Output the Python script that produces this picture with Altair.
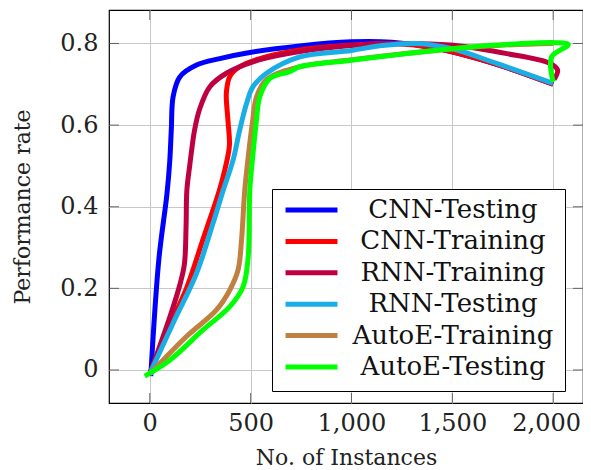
import altair as alt
import pandas as pd

series = ["CNN-Testing", "CNN-Training", "RNN-Training", "RNN-Testing", "AutoE-Training", "AutoE-Testing"]
colors = ["#0000ff", "#ff0000", "#bf0040", "#1aaee6", "#bf8040", "#00ff00"]

cnn_test_x = [5, 45, 85, 99, 107, 116, 149, 232, 347, 496, 744, 1000, 1200, 1400, 1700, 2000]
cnn_test_y = [-0.015, 0.27, 0.43, 0.51, 0.59, 0.67, 0.718, 0.747, 0.763, 0.778, 0.794, 0.804, 0.803, 0.79, 0.752, 0.70]

cnn_train_x = [0, 100, 182, 264, 345, 372, 395, 388, 380, 398, 446, 546, 744, 1000, 1200, 1400, 1700, 2000]
cnn_train_y = [-0.01, 0.11, 0.20, 0.32, 0.44, 0.49, 0.55, 0.61, 0.68, 0.72, 0.743, 0.763, 0.784, 0.796, 0.80, 0.79, 0.752, 0.70]

rnn_train_x = [0, 100, 150, 172, 180, 184, 198, 223, 248, 298, 380, 512, 744, 1000, 1250, 1490, 1770, 1980, 2022, 2005]
rnn_train_y = [-0.01, 0.13, 0.21, 0.26, 0.35, 0.44, 0.50, 0.59, 0.64, 0.694, 0.727, 0.755, 0.78, 0.795, 0.80, 0.796, 0.775, 0.752, 0.735, 0.712]

rnn_test_x = [0, 115, 232, 314, 364, 413, 446, 480, 512, 579, 744, 1000, 1150, 1320, 1500, 1720, 2000]
rnn_test_y = [-0.01, 0.114, 0.237, 0.36, 0.44, 0.514, 0.588, 0.653, 0.694, 0.727, 0.767, 0.783, 0.795, 0.80, 0.787, 0.751, 0.702]

auto_train_x = [0, 182, 331, 397, 438, 455, 471, 490, 510, 530, 580, 744, 1000, 1438, 1720, 2000]
auto_train_y = [-0.01, 0.082, 0.147, 0.196, 0.245, 0.318, 0.44, 0.53, 0.61, 0.67, 0.712, 0.743, 0.76, 0.784, 0.795, 0.80]

auto_test_x = [-25, 99, 264, 397, 463, 488, 496, 512, 529, 546, 595, 694, 744, 1000, 1438, 1720, 2017, 2075, 1992, 2000]
auto_test_y = [-0.015, 0.024, 0.098, 0.155, 0.204, 0.277, 0.44, 0.53, 0.612, 0.67, 0.714, 0.731, 0.743, 0.759, 0.784, 0.796, 0.802, 0.797, 0.767, 0.706]

x_ticks = [0, 500, 1000, 1500, 2000]
y_ticks = [0, 0.2, 0.4, 0.6, 0.8]
x_domain = [-202, 2148]
y_domain = [-0.081, 0.882]

all_x = [cnn_test_x, cnn_train_x, rnn_train_x, rnn_test_x, auto_train_x, auto_test_x]
all_y = [cnn_test_y, cnn_train_y, rnn_train_y, rnn_test_y, auto_train_y, auto_test_y]

FONT = "DejaVu Serif"

x_enc = alt.X(
    "x:Q",
    scale=alt.Scale(domain=x_domain, nice=False, zero=False),
    axis=alt.Axis(
        values=x_ticks, labelExpr="format(datum.value, ',d')", grid=True, gridColor="#c8c8c8",
        gridWidth=1, tickSize=0, domain=False, labelFont=FONT, labelFontSize=24, labelColor="#222",
        labelPadding=8, labelOffset=alt.ExprRef("datum.value == 2000 ? -7 : 0"),
        title="No. of Instances", titleFont=FONT, titleFontSize=22,
        titleFontWeight="normal", titleColor="#222", titleY=61, titleBaseline="alphabetic",
    ),
)
y_enc = alt.Y(
    "y:Q",
    scale=alt.Scale(domain=y_domain, nice=False, zero=False),
    axis=alt.Axis(
        values=y_ticks, labelExpr="datum.value == 0 ? '0' : format(datum.value, '.1f')",
        grid=True, gridColor="#c8c8c8", gridWidth=1, tickSize=0, domain=False,
        labelFont=FONT, labelFontSize=24, labelColor="#222", labelPadding=11,
        title="Performance rate", titleFont=FONT, titleFontSize=22, titleFontWeight="normal",
        titleColor="#222", titleX=-87, titleY=196.5, titleAlign="center", titleBaseline="middle",
        titleAngle=270,
    ),
)
color_enc = alt.Color(
    "series:N",
    scale=alt.Scale(domain=series, range=colors),
    legend=alt.Legend(
        orient="none", legendX=163, legendY=179, direction="vertical", title=None,
        symbolType="stroke", symbolStrokeWidth=5, symbolSize=2700, clipHeight=20,
        rowPadding=5.4, labelFont=FONT, labelFontSize=26, labelColor="#111",
        labelAlign="center", labelOffset=113, labelLimit=400, padding=11,
        fillColor="white", strokeColor="black",
    ),
)

layers = []
for name, xs, ys in zip(series, all_x, all_y):
    df = pd.DataFrame({"x": xs, "y": ys, "series": name, "order": list(range(len(xs)))})
    layers.append(
        alt.Chart(df).mark_line(strokeWidth=5, interpolate="catmull-rom", strokeJoin="round").encode(
            x=x_enc, y=y_enc, color=color_enc, order="order:Q"
        )
    )

# inward ticks on all four sides (clipped to the frame)
tick_sets = [
    (pd.DataFrame({"x": x_ticks, "y": [y_domain[0]] * len(x_ticks)}), "vertical"),
    (pd.DataFrame({"x": x_ticks, "y": [y_domain[1]] * len(x_ticks)}), "vertical"),
    (pd.DataFrame({"x": [x_domain[0]] * len(y_ticks), "y": y_ticks}), "horizontal"),
    (pd.DataFrame({"x": [x_domain[1]] * len(y_ticks), "y": y_ticks}), "horizontal"),
]
for df, orient in tick_sets:
    layers.append(
        alt.Chart(df).mark_tick(orient=orient, size=20, thickness=1, color="#333", clip=True).encode(
            x=x_enc, y=y_enc
        )
    )

chart = alt.layer(*layers).properties(
    width=474, height=393,
    autosize=alt.AutoSizeParams(type="none"),
    padding={"left": 101, "top": 2, "right": 0, "bottom": 67},
).configure_view(stroke="#000", strokeWidth=1.2)

chart.save("out.html", embed_options={"renderer": "svg", "actions": False})
